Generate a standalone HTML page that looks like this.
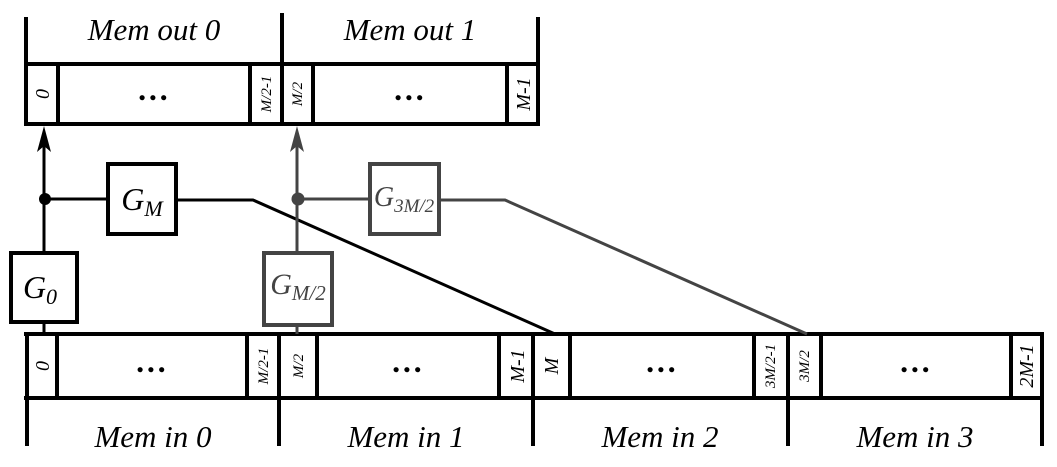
<!DOCTYPE html>
<html><head><meta charset="utf-8"><style>
html,body{margin:0;padding:0;background:#fff;}
svg{display:block}
text{font-family:"Liberation Serif",serif;font-style:italic;}
</style></head><body>
<svg width="1057" height="467" viewBox="0 0 1057 467">
<!-- top memory -->
<g stroke="#000" stroke-width="4" fill="none">
<line x1="26" y1="17" x2="26" y2="126"/><line x1="282" y1="13" x2="282" y2="126"/><line x1="538" y1="17" x2="538" y2="126"/>
<line x1="24" y1="64" x2="540" y2="64"/><line x1="24" y1="124" x2="540" y2="124"/>
<line x1="58" y1="64" x2="58" y2="124"/><line x1="250" y1="64" x2="250" y2="124"/>
<line x1="313" y1="64" x2="313" y2="124"/><line x1="507" y1="64" x2="507" y2="124"/>
</g>
<text x="154" y="40" font-size="31" text-anchor="middle">Mem out 0</text>
<text x="410" y="40" font-size="31" text-anchor="middle">Mem out 1</text>
<text x="154" y="100" font-size="32" text-anchor="middle" font-weight="bold">…</text>
<text x="410" y="100" font-size="32" text-anchor="middle" font-weight="bold">…</text>
<text transform="translate(49,94) rotate(-90)" font-size="20" text-anchor="middle">0</text>
<text transform="translate(271,94) rotate(-90)" font-size="15" text-anchor="middle">M/2-1</text>
<text transform="translate(302,94) rotate(-90)" font-size="15" text-anchor="middle">M/2</text>
<text transform="translate(530,94) rotate(-90)" font-size="20" text-anchor="middle">M-1</text>
<!-- bottom memory -->
<g stroke="#000" stroke-width="4" fill="none">
<line x1="24" y1="334" x2="1044" y2="334"/><line x1="24" y1="398" x2="1044" y2="398"/>
<line x1="27" y1="334" x2="27" y2="446"/><line x1="279" y1="334" x2="279" y2="446"/><line x1="533" y1="334" x2="533" y2="446"/><line x1="788" y1="334" x2="788" y2="446"/><line x1="1042" y1="334" x2="1042" y2="446"/>
<line x1="57" y1="334" x2="57" y2="398"/><line x1="247" y1="334" x2="247" y2="398"/>
<line x1="317" y1="334" x2="317" y2="398"/><line x1="499" y1="334" x2="499" y2="398"/>
<line x1="570" y1="334" x2="570" y2="398"/><line x1="754" y1="334" x2="754" y2="398"/>
<line x1="821" y1="334" x2="821" y2="398"/><line x1="1011" y1="334" x2="1011" y2="398"/>
</g>
<g font-size="32" text-anchor="middle" font-weight="bold">
<text x="152" y="372">…</text>
<text x="408" y="372">…</text>
<text x="662" y="372">…</text>
<text x="916" y="372">…</text>
</g>
<g text-anchor="middle">
<text transform="translate(49,366) rotate(-90)" font-size="20">0</text>
<text transform="translate(268,366) rotate(-90)" font-size="15">M/2-1</text>
<text transform="translate(303,366) rotate(-90)" font-size="15">M/2</text>
<text transform="translate(524,366) rotate(-90)" font-size="20">M-1</text>
<text transform="translate(558,366) rotate(-90)" font-size="20">M</text>
<text transform="translate(775,366) rotate(-90)" font-size="15">3M/2-1</text>
<text transform="translate(809,366) rotate(-90)" font-size="15">3M/2</text>
<text transform="translate(1033,366) rotate(-90)" font-size="20">2M-1</text>
</g>
<g font-size="31" text-anchor="middle">
<text x="153" y="447">Mem in 0</text>
<text x="406" y="447">Mem in 1</text>
<text x="660" y="447">Mem in 2</text>
<text x="915" y="447">Mem in 3</text>
</g>
<!-- black paths -->
<g stroke="#000" stroke-width="3" fill="none">
<line x1="44" y1="252" x2="44" y2="140"/>
<line x1="44" y1="322" x2="44" y2="334"/>
<line x1="44" y1="199" x2="107" y2="199"/>
<polyline points="177,200 253,200 555,334"/>
</g>
<path d="M44,126 L51,152 L44,146 L37,152 Z" fill="#000"/>
<circle cx="45" cy="199" r="6" fill="#000"/>
<!-- grey paths -->
<g stroke="#444" stroke-width="3" fill="none">
<line x1="297" y1="252" x2="297" y2="140"/>
<line x1="297" y1="326" x2="297" y2="334"/>
<line x1="297" y1="199" x2="369" y2="199"/>
<polyline points="440,200 505,200 807,334"/>
</g>
<path d="M297,126 L304,152 L297,146 L290,152 Z" fill="#444"/>
<circle cx="298" cy="199" r="6.5" fill="#444"/>
<!-- gates -->
<rect x="11" y="253" width="66" height="69" fill="#fff" stroke="#000" stroke-width="4"/>
<text x="40" y="298" font-size="32" text-anchor="middle">G<tspan font-size="22" dy="6">0</tspan></text>
<rect x="108" y="164" width="68" height="70" fill="#fff" stroke="#000" stroke-width="4"/>
<text x="142" y="210" font-size="32" text-anchor="middle">G<tspan font-size="22" dy="6">M</tspan></text>
<rect x="264" y="253" width="68" height="72" fill="#fff" stroke="#444" stroke-width="4"/>
<text x="298" y="294" font-size="30" text-anchor="middle" fill="#444">G<tspan font-size="21" dy="6">M/2</tspan></text>
<rect x="370" y="164" width="69" height="70" fill="#fff" stroke="#444" stroke-width="4"/>
<text x="404" y="206" font-size="28" text-anchor="middle" fill="#444">G<tspan font-size="19" dy="6">3M/2</tspan></text>
</svg>
</body></html>
